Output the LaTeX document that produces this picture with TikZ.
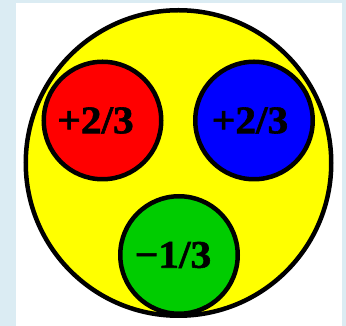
\documentclass[tikz,border=0pt]{standalone}
\usepackage{fontspec}
\setmainfont{Liberation Serif}
\newfontfamily\chargefont[FakeStretch=1.06,FakeBold=1.5]{Liberation Serif Bold}
\usepackage{xcolor}
\definecolor{frameBlue}{RGB}{219,236,243}
\definecolor{protonYellow}{RGB}{255,255,0}
\definecolor{quarkRed}{RGB}{255,0,0}
\definecolor{quarkBlue}{RGB}{0,0,255}
\definecolor{quarkGreen}{RGB}{0,204,0}

\begin{document}
\begin{tikzpicture}[x=1pt,y=1pt,
  quark/.style={circle,draw=black,line width=4.5pt,minimum size=117.5pt,inner sep=0pt,
    font=\chargefont\fontsize{39}{39}\selectfont}]
  \fill[frameBlue] (0,0) rectangle (346,326);
  \fill[white] (16,0) rectangle (342,323);
  \useasboundingbox (0,0) rectangle (346,326);
  \node[circle,draw=black,fill=protonYellow,line width=4.5pt,minimum size=305.5pt,inner sep=0pt] (proton) at (178.5,163) {};
  \node[quark,fill=quarkRed] (up1) at (102.5,205.5) {\hspace*{-14pt}+2/3};
  \node[quark,fill=quarkBlue] (up2) at (254,205.5) {\hspace*{-8pt}+2/3};
  \node[quark,fill=quarkGreen] (down) at (179,71) {\hspace*{-12pt}−1/3};
\end{tikzpicture}
\end{document}
